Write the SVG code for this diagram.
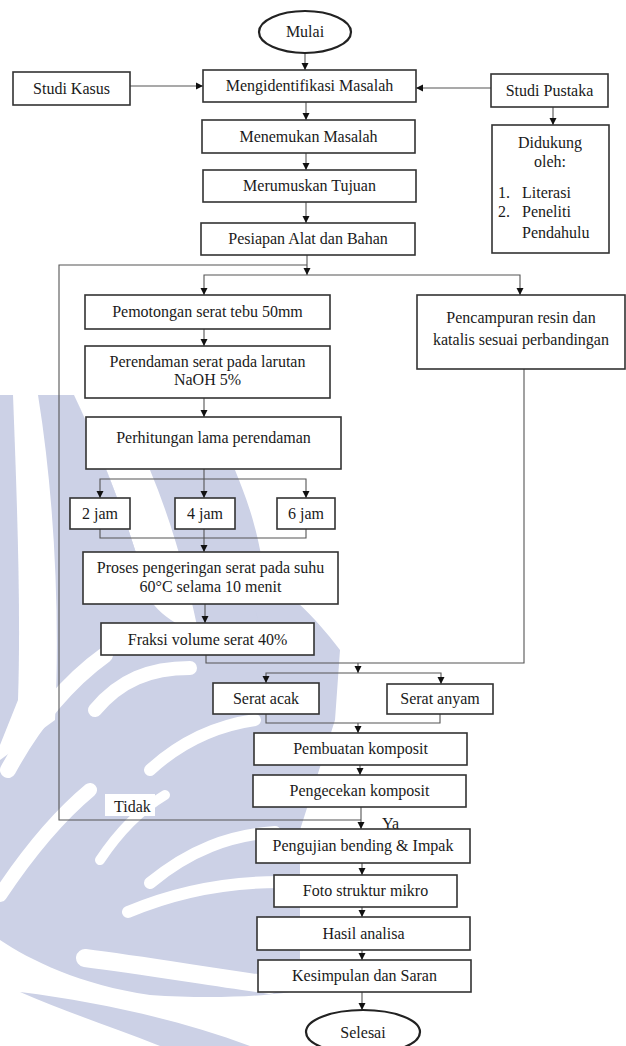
<svg xmlns="http://www.w3.org/2000/svg" width="626" height="1046" viewBox="0 0 626 1046">
<style>
.box{fill:#fff;stroke:#333;stroke-width:1.6}
.oval{fill:#fff;stroke:#222;stroke-width:2.2}
.t{font-family:'Liberation Serif','DejaVu Serif',serif;font-size:16px;fill:#1a1a1a;text-anchor:middle}
.tl{font-family:'Liberation Serif','DejaVu Serif',serif;font-size:16px;fill:#1a1a1a}
.c{fill:none;stroke:#555;stroke-width:1.1}
.wm{fill:#ccd1e6}
.ws{fill:none;stroke:#fff;stroke-linecap:round}
</style>
<defs>
<marker id="ah" markerWidth="8" markerHeight="8" refX="7" refY="4" orient="auto" markerUnits="userSpaceOnUse">
<path d="M0,0.5 L7,4 L0,7.5 Z" fill="#111"/>
</marker>
</defs>
<rect width="626" height="1046" fill="#fff"/>
<g id="watermark">
<path class="wm" d="M0,395 L13,395 C17,500 21,610 18,700 L0,745 Z"/>
<path class="wm" d="M38,395 L74,395 C100,450 128,520 150,600 C180,640 230,640 265,630 L262,560 C255,520 245,495 235,470 L150,470 C175,530 190,590 200,640 L160,640 C140,560 110,470 74,395 Z"/>
<path class="wm" d="M38,395 C55,500 60,620 55,720 L0,760 L0,940 C30,960 80,985 150,995 C220,1000 280,995 300,990 L300,830 L335,720 L340,650 C310,610 280,585 245,560 L262,640 C220,650 170,650 150,600 C128,520 100,450 74,395 Z"/>
<path class="wm" d="M20,992 C100,1002 180,1020 250,1046 L160,1046 C110,1026 60,1010 20,992 Z"/>
<path class="ws" stroke-width="16" d="M8,770 C35,720 70,680 105,655"/>
<path class="ws" stroke-width="14" d="M0,895 C30,850 60,815 90,790"/>
<path class="ws" stroke-width="12" d="M150,883 C190,850 230,835 275,832"/>
<path class="ws" stroke-width="12" d="M128,912 C180,890 230,882 280,882"/>
<path class="ws" stroke-width="18" d="M85,958 C140,965 200,975 270,985"/>
<path class="ws" stroke-width="14" d="M95,710 C120,680 150,668 190,668"/>
<path class="ws" stroke-width="12" d="M150,770 C185,738 220,725 255,720"/>
<path class="ws" stroke-width="10" d="M100,860 C120,830 140,810 165,795"/>
<rect x="105" y="794" width="50" height="22" fill="#fff"/>
</g>
<g id="connectors">
<path class="c" marker-end="url(#ah)" d="M305,53 V70"/>
<path class="c" marker-end="url(#ah)" d="M130,86 H203"/>
<path class="c" marker-end="url(#ah)" d="M491,88 H416"/>
<path class="c" marker-end="url(#ah)" d="M553,107 V125"/>
<path class="c" marker-end="url(#ah)" d="M306,102 V120"/>
<path class="c" marker-end="url(#ah)" d="M306,153 V170"/>
<path class="c" marker-end="url(#ah)" d="M306,202 V223"/>
<path class="c" marker-end="url(#ah)" d="M307,255 V275"/>
<path class="c" d="M361,820 H59 V265 H307"/>
<path class="c" marker-end="url(#ah)" d="M307,275 H204 V295"/>
<path class="c" marker-end="url(#ah)" d="M307,275 H520 V295"/>
<path class="c" marker-end="url(#ah)" d="M204,329 V346"/>
<path class="c" marker-end="url(#ah)" d="M204,398 V417"/>
<path class="c" marker-end="url(#ah)" d="M204,469 V498"/>
<path class="c" marker-end="url(#ah)" d="M204,479 H100 V498"/>
<path class="c" marker-end="url(#ah)" d="M204,479 H306 V498"/>
<path class="c" d="M100,529 V538 H306 V529"/>
<path class="c" marker-end="url(#ah)" d="M204,529 V552"/>
<path class="c" marker-end="url(#ah)" d="M205,604 V623"/>
<path class="c" d="M206,655 V663 H524 V369"/>
<path class="c" marker-end="url(#ah)" d="M358,663 V673"/>
<path class="c" marker-end="url(#ah)" d="M358,673 H266 V683"/>
<path class="c" marker-end="url(#ah)" d="M358,673 H441 V684"/>
<path class="c" d="M266,714 V723 H440 V714"/>
<path class="c" marker-end="url(#ah)" d="M358,723 V733"/>
<path class="c" marker-end="url(#ah)" d="M360,765 V775"/>
<path class="c" marker-end="url(#ah)" d="M361,807 V829"/>
<path class="c" marker-end="url(#ah)" d="M362,863 V875"/>
<path class="c" marker-end="url(#ah)" d="M362,907 V917"/>
<path class="c" marker-end="url(#ah)" d="M362,950 V960"/>
<path class="c" marker-end="url(#ah)" d="M362,992 V1010"/>
<text class="tl" x="114" y="812">Tidak</text>
<text class="tl" x="382" y="829">Ya</text>
</g>
<g id="mulai"><ellipse class="oval" cx="305" cy="32" rx="46" ry="21"/><text class="t" x="305" y="37">Mulai</text></g>
<g id="studi-kasus"><rect class="box" x="13" y="72" width="117" height="33"/><text class="t" x="71.5" y="94">Studi Kasus</text></g>
<g id="mengidentifikasi"><rect class="box" x="203" y="70" width="213" height="32"/><text class="t" x="309.5" y="91">Mengidentifikasi Masalah</text></g>
<g id="studi-pustaka"><rect class="box" x="491" y="74" width="117" height="33"/><text class="t" x="549.5" y="96">Studi Pustaka</text></g>
<g id="didukung"><rect class="box" x="492" y="125" width="117" height="128"/>
<text class="t" x="550" y="148">Didukung</text><text class="t" x="550" y="167">oleh:</text>
<text class="tl" x="498" y="198">1.</text><text class="tl" x="522" y="198">Literasi</text>
<text class="tl" x="498" y="217">2.</text><text class="tl" x="522" y="217">Peneliti</text>
<text class="tl" x="522" y="238">Pendahulu</text></g>
<g id="menemukan"><rect class="box" x="202" y="120" width="213" height="33"/><text class="t" x="308.5" y="142">Menemukan Masalah</text></g>
<g id="merumuskan"><rect class="box" x="203" y="170" width="213" height="32"/><text class="t" x="309.5" y="191">Merumuskan Tujuan</text></g>
<g id="pesiapan"><rect class="box" x="201" y="223" width="214" height="32"/><text class="t" x="308" y="244">Pesiapan Alat dan Bahan</text></g>
<g id="pemotongan"><rect class="box" x="85" y="295" width="245" height="34"/><text class="t" x="207.5" y="317">Pemotongan serat tebu 50mm</text></g>
<g id="pencampuran"><rect class="box" x="417" y="295" width="208" height="74"/><text class="t" x="521" y="323">Pencampuran resin dan</text><text class="t" x="521" y="345">katalis sesuai perbandingan</text></g>
<g id="perendaman"><rect class="box" x="85" y="346" width="245" height="52"/><text class="t" x="207.5" y="367">Perendaman serat pada larutan</text><text class="t" x="207.5" y="385">NaOH 5%</text></g>
<g id="perhitungan"><rect class="box" x="86" y="417" width="255" height="52"/><text class="t" x="213.5" y="443">Perhitungan lama perendaman</text></g>
<g id="jam2"><rect class="box" x="70" y="498" width="60" height="31"/><text class="t" x="100" y="519">2 jam</text></g>
<g id="jam4"><rect class="box" x="175" y="498" width="60" height="31"/><text class="t" x="205" y="519">4 jam</text></g>
<g id="jam6"><rect class="box" x="277" y="498" width="58" height="31"/><text class="t" x="306" y="519">6 jam</text></g>
<g id="proses"><rect class="box" x="83" y="552" width="255" height="52"/><text class="t" x="210.5" y="573">Proses pengeringan serat pada suhu</text><text class="t" x="210.5" y="592">60°C selama 10 menit</text></g>
<g id="fraksi"><rect class="box" x="101" y="623" width="213" height="32"/><text class="t" x="207.5" y="645">Fraksi volume serat 40%</text></g>
<g id="serat-acak"><rect class="box" x="213" y="683" width="106" height="31"/><text class="t" x="266" y="704">Serat acak</text></g>
<g id="serat-anyam"><rect class="box" x="387" y="684" width="106" height="30"/><text class="t" x="440" y="704">Serat anyam</text></g>
<g id="pembuatan"><rect class="box" x="254" y="733" width="213" height="32"/><text class="t" x="360.5" y="754">Pembuatan komposit</text></g>
<g id="pengecekan"><rect class="box" x="253" y="775" width="213" height="32"/><text class="t" x="359.5" y="796">Pengecekan komposit</text></g>
<g id="pengujian"><rect class="box" x="256" y="829" width="214" height="34"/><text class="t" x="363" y="851">Pengujian bending &amp; Impak</text></g>
<g id="foto"><rect class="box" x="274" y="875" width="183" height="32"/><text class="t" x="365.5" y="896">Foto struktur mikro</text></g>
<g id="hasil"><rect class="box" x="257" y="917" width="213" height="33"/><text class="t" x="363.5" y="939">Hasil analisa</text></g>
<g id="kesimpulan"><rect class="box" x="258" y="960" width="213" height="32"/><text class="t" x="364.5" y="981">Kesimpulan dan Saran</text></g>
<g id="selesai"><ellipse class="oval" cx="363" cy="1032" rx="57" ry="22"/><text class="t" x="363" y="1038">Selesai</text></g>
</svg>
